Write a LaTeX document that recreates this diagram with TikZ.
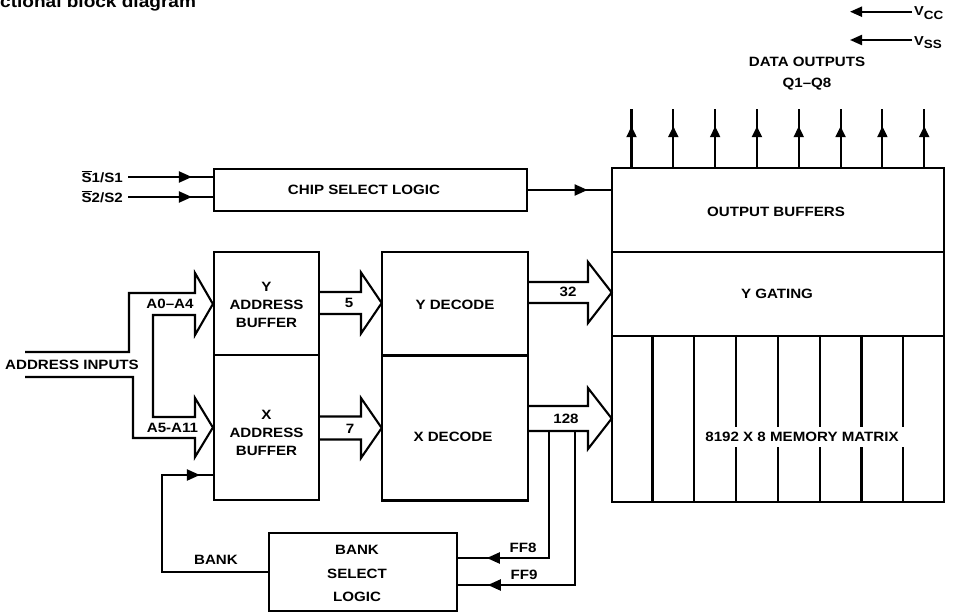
\documentclass[tikz,border=0pt]{standalone}
\usepackage{fontspec}
\setmainfont{Liberation Sans}[FakeStretch=1.12]
\usetikzlibrary{arrows.meta,decorations.markings,calc}
\newcommand\ovl[1]{\vbox{\hrule height 1.2pt\kern1.3pt\hbox{#1}}}
\newcommand\busarrow[6]{\draw[conn] (#1,#4-#5) -- (#2,#4-#5) -- (#2,#4-#6) -- (#3,#4) -- (#2,#4+#6) -- (#2,#4+#5) -- (#1,#4+#5);}
\tikzset{
  box/.style={draw, line width=2.2pt, inner sep=0pt},
  conn/.style={line width=2.1pt, line join=miter},
  txt/.style={font=\bfseries\fontsize{13.5}{18}\selectfont, inner sep=2pt, align=center},
  midtip/.style={postaction={decorate}, decoration={markings,
     mark=at position #1 with {\arrow{Triangle[length=13pt,width=11pt]}}}},
  midtipsmall/.style={postaction={decorate}, decoration={markings,
     mark=at position #1 with {\arrow{Triangle[length=11pt,width=10pt]}}}},
}
\begin{document}
\begin{tikzpicture}[x=1pt,y=-1pt]
\useasboundingbox (0,0) rectangle (960,613);

% title (cut at top)
\node[anchor=base west, inner sep=0pt, font=\bfseries\fontsize{17}{20}\selectfont] (title) at (0,7.3) {ctional block diagram};

% supply pins
\node[anchor=base west, inner sep=0pt, font=\bfseries\fontsize{13}{15}\selectfont] (vcc) at (914,15.5) {V\raisebox{-3.5pt}{\fontsize{12}{14}\selectfont CC}};
\node[anchor=base west, inner sep=0pt, font=\bfseries\fontsize{13}{15}\selectfont] (vss) at (914,45) {V\raisebox{-3.5pt}{\fontsize{12}{14}\selectfont SS}};
\draw[conn, shorten <=2pt, -{Triangle[length=12pt,width=10pt]}] (vcc.west |- 0,11.7) -- (850,11.7);
\draw[conn, shorten <=2pt, -{Triangle[length=12pt,width=10pt]}] (vss.west |- 0,40) -- (850,40);

% data outputs label
\node[txt, font=\bfseries\fontsize{13.5}{21}\selectfont] (dout) at (807,74) {DATA OUTPUTS\\Q1--Q8};

% chip select
\node[box, minimum width=313pt, minimum height=42pt] (cs) at (370.5,190) {};
\node[txt] (cstxt) at (364,190) {CHIP SELECT LOGIC};
\node[txt, anchor=east] (s1) at (125,177) {\ovl{S}1/S1};
\node[txt, anchor=east] (s2) at (125,197) {\ovl{S}2/S2};
\draw[conn, midtip=-21pt, shorten <=3pt] (s1.east) -- (cs.west |- s1.east);
\draw[conn, midtip=-21pt, shorten <=3pt] (s2.east) -- (cs.west |- s2.east);

% address buffers
\node[box, minimum width=105pt, minimum height=103pt] (yab) at (266.5,303.5) {};
\node[box, minimum width=105pt, minimum height=145pt] (xab) at (266.5,427.5) {};
\node[txt] (yabtxt) at (266.5,305) {Y\\ADDRESS\\BUFFER};
\node[txt] (xabtxt) at (266.5,433) {X\\ADDRESS\\BUFFER};

% decoders
\node[box, minimum width=146.3pt, minimum height=103.5pt] (ydec) at (454.85,303.75) {};
\node[box, minimum width=146.3pt, minimum height=145pt] (xdec) at (454.85,428) {};
\node[txt] (ydectxt) at (455,305) {Y DECODE};
\node[txt] (xdectxt) at (453,437) {X DECODE};

% output buffers / y gating / matrix
\node[box, minimum width=332.3pt, minimum height=83.7pt] (outbuf) at (777.85,210.15) {};
\node[box, minimum width=332.3pt, minimum height=84pt] (ygate) at (777.85,294) {};
\node[box, minimum width=332.3pt, minimum height=166pt] (matrix) at (777.85,419) {};
\node[txt] (obtxt) at (776,212) {OUTPUT BUFFERS};
\node[txt] (ygtxt) at (777,294) {Y GATING};
\foreach \i in {1,...,7}{
  \draw[line width=2.2pt] ($(matrix.north west)!\i/8!(matrix.north east)$) -- ($(matrix.south west)!\i/8!(matrix.south east)$);
}
\node[txt, fill=white, inner xsep=10pt, inner ysep=5pt] (mmtxt) at (802,437) {8192 X 8 MEMORY MATRIX};

% data output arrows
\foreach \i in {1,...,8}{
  \pgfmathsetmacro\f{(\i-0.5)/8}
  \coordinate (dob\i) at ($(outbuf.north west)!\f!(outbuf.north east)$);
  \coordinate (do\i) at ($(dob\i)+(0,-58)$);
  \draw[conn, midtipsmall=-17pt] (dob\i) -- (do\i);
}

% chip select to output buffers
\draw[conn, midtip=-23pt] (cs.east) -- (outbuf.west |- cs.east);

% address inputs bus
\draw[conn] (25,352) -- (129,352) -- (129,293) -- (195,293) -- (195,273) -- (yab.west |- 0,304) -- (195,335) -- (195,315) -- (153,315) -- (153,417) -- (195,417) -- (195,398) -- (xab.west |- 0,427.5) -- (195,457) -- (195,438) -- (133,438) -- (133,377) -- (25,377);
\node[txt] (ain) at (72,365) {ADDRESS INPUTS};
\node[txt] (a04) at (170,304) {A0--A4};
\node[txt] (a511) at (172.5,428) {A5-A11};

% internal buses
\busarrow{319}{361}{381.7}{303}{11}{30.5}
\busarrow{319}{361}{381.7}{428}{11.5}{30}
\busarrow{528}{588}{611.7}{292.5}{10.5}{30.5}
\busarrow{528}{588}{611.7}{418.5}{12.5}{30.5}
\node[txt] (l5) at (349,303) {5};
\node[txt] (l7) at (350,429) {7};
\node[txt] (l32) at (568,292) {32};
\node[txt] (l128) at (566,419) {128};

% bank select
\node[box, minimum width=187.7pt, minimum height=78pt] (bank) at (362.85,572) {};
\node[txt, font=\bfseries\fontsize{13.5}{23.5}\selectfont] (banktxt) at (357,573.5) {BANK\\SELECT\\LOGIC};
\coordinate (ff8) at (549.3,431);
\coordinate (ff9) at (575,431);
\draw[conn, midtip=-29pt] (ff8) |- (bank.east |- 0,558);
\draw[conn, midtip=-30pt] (ff9) |- (bank.east |- 0,585);
\node[txt] (lff8) at (523,548) {FF8};
\node[txt] (lff9) at (524,575) {FF9};
\coordinate (bk) at (161.7,475);
\draw[conn, midtip=-13pt] (bank.west) -| (bk) -- (xab.west |- bk);
\node[txt] (lbank) at (216,560) {BANK};
\end{tikzpicture}
\end{document}
